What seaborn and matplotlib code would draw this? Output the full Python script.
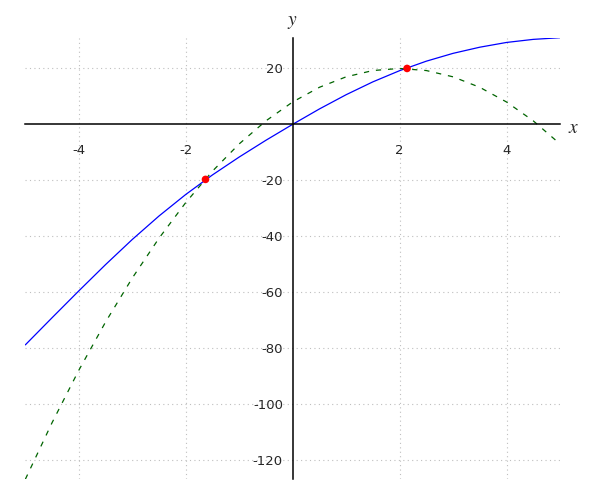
import numpy as np
import pandas as pd
import matplotlib
matplotlib.use("Agg")
import matplotlib.pyplot as plt
import seaborn as sns

### Values
x_vals = [-5.0, -4.5, -4.0, -3.5, -3.0, -2.5, -2.0, -1.5, -1.0, -0.5, 0.0,
          0.5, 1.0, 1.5, 2.0, 2.5, 3.0, 3.5, 4.0, 4.5, 5.0]
f_vals = [-78.9, -69.2, -59.6, -50.2, -41.2, -32.8, -25.1, -18.1, -11.7, -5.7, 0.0,
          5.5, 10.6, 15.2, 19.2, 22.6, 25.4, 27.6, 29.3, 30.4, 31.0]
g_vals = [-127.0, -106.75, -88.0, -70.75, -55.0, -40.75, -28.0, -16.75, -7.0, 1.25, 8.0,
          13.25, 17.0, 19.25, 20.0, 19.25, 17.0, 13.25, 8.0, 1.25, -7.0]
pts_x = [-1.63, 2.14]
pts_y = [-19.7, 20.0]

x_ticks = [-4, -2, 2, 4]
y_ticks = [-120, -100, -80, -60, -40, -20, 20]

curve_df = pd.DataFrame({"x": x_vals, "f": f_vals, "g": g_vals})
pts_df = pd.DataFrame({"x": pts_x, "y": pts_y})

sns.set_style("white")
plt.rcParams["mathtext.fontset"] = "stix"

fig = plt.figure(figsize=(6, 5), dpi=100)
ax = fig.add_axes([0.0422, 0.0414, 0.8911, 0.8832])

sns.lineplot(data=curve_df, x="x", y="f", color="#0000ff", linewidth=0.9, ax=ax)
sns.lineplot(data=curve_df, x="x", y="g", color="#006400", linewidth=0.9,
             dashes=False, ax=ax).lines[-1].set_dashes((4.2, 5.5))
sns.scatterplot(data=pts_df, x="x", y="y", color="red", s=30, edgecolor="none",
                zorder=5, ax=ax)

ax.set_xlim(-5, 5)
ax.set_ylim(-127, 31)
ax.set_xticks(x_ticks)
ax.set_yticks(y_ticks)
ax.set_xticklabels([str(t) for t in x_ticks])
ax.set_yticklabels([str(t) for t in y_ticks])
ax.set_xlabel("")
ax.set_ylabel("")

# axes crossing at the origin
for side in ["top", "right"]:
    ax.spines[side].set_visible(False)
ax.spines["left"].set_position(("data", 0))
ax.spines["bottom"].set_position(("data", 0))
for side in ["left", "bottom"]:
    ax.spines[side].set_color("black")
    ax.spines[side].set_linewidth(1.1)
    ax.spines[side].set_zorder(3)

ax.tick_params(axis="x", direction="out", length=4.5, width=1, color="black",
               labelsize=9.5, labelcolor="0.15", pad=9.5)
ax.tick_params(axis="y", direction="out", length=4.5, width=1, color="black",
               labelsize=9.5, labelcolor="0.15", pad=2.5)

ax.grid(True, linestyle=(0, (1, 3)), linewidth=0.8, color="0.75")
ax.set_axisbelow(True)

ax.annotate("$x$", xy=(1, 0), xycoords=("axes fraction", "data"), xytext=(10, -2),
            textcoords="offset points", ha="center", va="center", fontsize=14)
ax.annotate("$y$", xy=(0, 1), xycoords=("data", "axes fraction"), xytext=(0, 11.5),
            textcoords="offset points", ha="center", va="center", fontsize=14)

fig.savefig("out.png", dpi=100)
